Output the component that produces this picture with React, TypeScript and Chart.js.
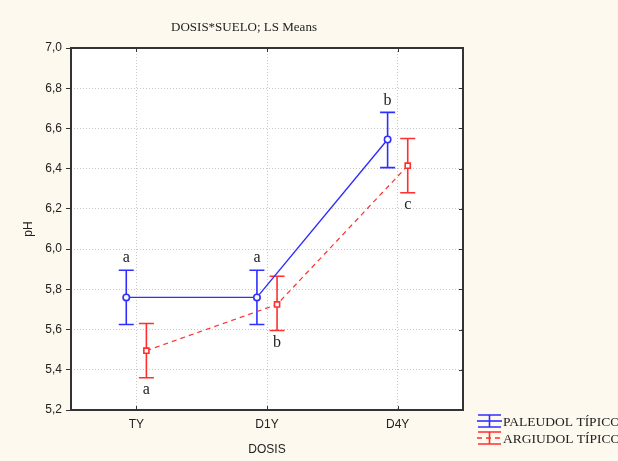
import React, { useEffect, useRef } from 'react';
import { Chart, registerables } from 'chart.js';

Chart.register(...registerables);

// ---- data ----
const categories = ['TY', 'D1Y', 'D4Y'];
const seriesNames = ['PALEUDOL TÍPICO', 'ARGIUDOL TÍPICO'];
const paleudolMean = [5.76, 5.76, 6.545];
const paleudolLow = [5.625, 5.625, 6.405];
const paleudolHigh = [5.895, 5.895, 6.68];
const argiudolMean = [5.495, 5.725, 6.415];
const argiudolLow = [5.36, 5.595, 6.28];
const argiudolHigh = [5.63, 5.865, 6.55];
const paleudolLetters = ['a', 'a', 'b'];
const argiudolLetters = ['a', 'b', 'c'];
const yTickValues = [5.2, 5.4, 5.6, 5.8, 6.0, 6.2, 6.4, 6.6, 6.8, 7.0];
const chartTitle = 'DOSIS*SUELO; LS Means';
const xTitle = 'DOSIS';
const yTitle = 'pH';

const DODGE = 0.077;
const BLUE = '#2f2fff';
const RED = '#ff2f2f';
const BG = '#fdf9ee';
const TEXT = '#222222';
const SANS = '"Liberation Sans", Arial, sans-serif';
const SERIF = '"Liberation Serif", "Times New Roman", serif';

const decorPlugin = {
  id: 'decor',
  beforeDraw(chart: any) {
    const { ctx, chartArea: a, width, height } = chart;
    ctx.save();
    ctx.fillStyle = BG;
    ctx.fillRect(0, 0, width, height);
    ctx.fillStyle = '#ffffff';
    ctx.fillRect(a.left, a.top, a.right - a.left, a.bottom - a.top);
    ctx.restore();
  },
  beforeDatasetsDraw(chart: any) {
    const { ctx } = chart;
    const xs = chart.scales.x;
    const ys = chart.scales.y;
    ctx.save();
    chart.data.datasets.forEach((ds: any) => {
      ctx.strokeStyle = ds.borderColor;
      ctx.lineWidth = 1.6;
      ctx.setLineDash([]);
      ds.data.forEach((p: any, i: number) => {
        const x = xs.getPixelForValue(p.x);
        const yl = ys.getPixelForValue(ds.errLow[i]);
        const yh = ys.getPixelForValue(ds.errHigh[i]);
        ctx.beginPath();
        ctx.moveTo(x, yl);
        ctx.lineTo(x, yh);
        ctx.moveTo(x - 7.5, yl);
        ctx.lineTo(x + 7.5, yl);
        ctx.moveTo(x - 7.5, yh);
        ctx.lineTo(x + 7.5, yh);
        ctx.stroke();
      });
    });
    ctx.restore();
  },
  afterDraw(chart: any) {
    const { ctx, chartArea: a } = chart;
    const xs = chart.scales.x;
    const ys = chart.scales.y;
    ctx.save();
    // frame
    ctx.strokeStyle = '#333333';
    ctx.lineWidth = 2;
    ctx.setLineDash([]);
    ctx.strokeRect(a.left, a.top, a.right - a.left, a.bottom - a.top);
    // inner ticks
    ctx.lineWidth = 1;
    ctx.beginPath();
    categories.forEach((_, i) => {
      const x = Math.round(xs.getPixelForValue(i)) + 0.5;
      ctx.moveTo(x, a.top);
      ctx.lineTo(x, a.top + 4);
      ctx.moveTo(x, a.bottom);
      ctx.lineTo(x, a.bottom - 4);
    });
    yTickValues.forEach((v) => {
      const y = Math.round(ys.getPixelForValue(v)) + 0.5;
      ctx.moveTo(a.right, y);
      ctx.lineTo(a.right - 4, y);
    });
    ctx.stroke();

    // letters
    ctx.fillStyle = TEXT;
    ctx.font = '16px ' + SERIF;
    ctx.textAlign = 'center';
    chart.data.datasets.forEach((ds: any) => {
      ds.data.forEach((p: any, i: number) => {
        const x = xs.getPixelForValue(p.x);
        if (ds.letterAbove) {
          ctx.textBaseline = 'bottom';
          ctx.fillText(ds.letters[i], x, ys.getPixelForValue(ds.errHigh[i]) - 4);
        } else {
          ctx.textBaseline = 'top';
          ctx.fillText(ds.letters[i], x, ys.getPixelForValue(ds.errLow[i]) + 4);
        }
      });
    });

    // title
    ctx.font = '13px ' + SERIF;
    ctx.textBaseline = 'middle';
    ctx.textAlign = 'center';
    ctx.fillText(chartTitle, 244, 28);

    // legend
    chart.data.datasets.forEach((ds: any, i: number) => {
      const yRow = 421 + i * 17;
      const x0 = 477;
      const x1 = 502;
      const cx = (x0 + x1) / 2;
      ctx.strokeStyle = ds.borderColor;
      ctx.lineWidth = 1.6;
      ctx.setLineDash(ds.borderDash || []);
      ctx.beginPath();
      ctx.moveTo(x0, yRow);
      ctx.lineTo(x1, yRow);
      ctx.stroke();
      ctx.setLineDash([]);
      ctx.beginPath();
      ctx.moveTo(cx, yRow - 6);
      ctx.lineTo(cx, yRow + 6);
      ctx.moveTo(x0 + 1, yRow - 6);
      ctx.lineTo(x1 - 1, yRow - 6);
      ctx.moveTo(x0 + 1, yRow + 6);
      ctx.lineTo(x1 - 1, yRow + 6);
      ctx.stroke();
      ctx.fillStyle = TEXT;
      ctx.font = '13.5px ' + SERIF;
      ctx.textAlign = 'left';
      ctx.textBaseline = 'middle';
      ctx.fillText(seriesNames[i], x1 + 1, yRow + 1);
    });
    ctx.restore();
  },
};

export default function App() {
  const ref = useRef<HTMLCanvasElement>(null);

  useEffect(() => {
    document.body.style.margin = '0';
    const canvas = ref.current;
    if (!canvas) return;
    const chart = new Chart(canvas, {
      type: 'line',
      data: {
        datasets: [
          {
            label: seriesNames[0],
            data: paleudolMean.map((y, i) => ({ x: i - DODGE, y })),
            borderColor: BLUE,
            backgroundColor: '#ffffff',
            borderWidth: 1.4,
            pointStyle: 'circle',
            pointRadius: 3.2,
            pointBorderWidth: 1.6,
            pointBackgroundColor: '#ffffff',
            pointBorderColor: BLUE,
            tension: 0,
            errLow: paleudolLow,
            errHigh: paleudolHigh,
            letters: paleudolLetters,
            letterAbove: true,
          } as any,
          {
            label: seriesNames[1],
            data: argiudolMean.map((y, i) => ({ x: i + DODGE, y })),
            borderColor: RED,
            backgroundColor: '#ffffff',
            borderWidth: 1.2,
            borderDash: [5, 4],
            pointStyle: 'rect',
            pointRadius: 3.6,
            pointBorderWidth: 1.6,
            pointBackgroundColor: '#ffffff',
            pointBorderColor: RED,
            tension: 0,
            errLow: argiudolLow,
            errHigh: argiudolHigh,
            letters: argiudolLetters,
            letterAbove: false,
          } as any,
        ],
      },
      options: {
        responsive: false,
        animation: false,
        layout: { padding: { left: 0, top: 48, right: 155, bottom: 0 } },
        plugins: {
          legend: { display: false },
          title: { display: false },
          tooltip: { enabled: false },
        },
        scales: {
          x: {
            type: 'linear',
            min: -0.5,
            max: 2.5,
            afterBuildTicks: (axis: any) => {
              axis.ticks = categories.map((_, i) => ({ value: i }));
            },
            afterFit: (scale: any) => {
              scale.height = 51;
            },
            ticks: {
              callback: (v: any) => categories[Math.round(Number(v))] ?? '',
              color: TEXT,
              font: { family: SANS, size: 12 },
              padding: 7,
              maxRotation: 0,
              autoSkip: false,
            },
            grid: {
              color: '#c8c8c8',
              lineWidth: 1,
              drawTicks: false,
            },
            border: { display: false, dash: [1, 2] },
            title: {
              display: true,
              text: xTitle,
              color: TEXT,
              font: { family: SANS, size: 12 },
              padding: { top: 0, bottom: 4 },
            },
          },
          y: {
            type: 'linear',
            min: 5.2,
            max: 7.0,
            afterBuildTicks: (axis: any) => {
              axis.ticks = yTickValues.map((v) => ({ value: v }));
            },
            afterFit: (scale: any) => {
              scale.width = 71;
            },
            ticks: {
              callback: (v: any) => Number(v).toFixed(1).replace('.', ','),
              color: TEXT,
              font: { family: SANS, size: 12 },
              padding: 4,
            },
            grid: {
              color: '#c8c8c8',
              lineWidth: 1,
              drawTicks: true,
              tickLength: 5,
              tickColor: '#333333',
              tickBorderDash: [],
            } as any,
            border: { display: false, dash: [1, 2] },
            title: {
              display: true,
              text: yTitle,
              color: TEXT,
              font: { family: SANS, size: 12 },
              padding: { top: 21, bottom: 0 },
            },
          },
        },
      } as any,
      plugins: [decorPlugin],
    });
    return () => chart.destroy();
  }, []);

  return <canvas ref={ref} width={618} height={461} style={{ display: 'block' }} />;
}
